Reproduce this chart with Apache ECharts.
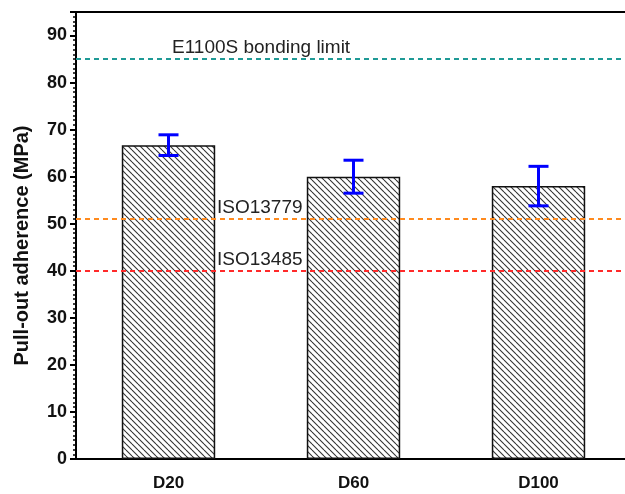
<!DOCTYPE html>
<html>
<head>
<meta charset="utf-8">
<script src="https://cdn.jsdelivr.net/npm/echarts@6/dist/echarts.min.js"></script>
<style>
html,body{margin:0;padding:0;background:#fff;overflow:hidden;width:625px;height:494px;}
#chart{width:700px;height:494px;}
</style>
</head>
<body>
<div id="chart"></div>
<script>
// ---- data ----
const categories = ['D20', 'D60', 'D100'];
const meanValues = [66.7, 60.0, 58.0];
const errorValues = [2.2, 3.5, 4.2];
const limitNames = ['E1100S bonding limit', 'ISO13779', 'ISO13485'];
const limitValues = [85, 51, 40];
const yTicks = [0, 10, 20, 30, 40, 50, 60, 70, 80, 90];

// ---- styles ----
const limitColors = ['#1f9a96', '#ff8a1e', '#ff2a2a'];
const limitLabelPad = [94, 139, 139];
const FONT = '"Liberation Sans", Arial, Helvetica, sans-serif';

function hatchPattern() {
  const s = 6;
  const c = document.createElement('canvas');
  c.width = s; c.height = s;
  const g = c.getContext('2d');
  g.fillStyle = '#ffffff';
  g.fillRect(0, 0, s, s);
  g.strokeStyle = '#333333';
  g.lineWidth = 1.1;
  [-s, 0, s].forEach(k => {
    g.beginPath();
    g.moveTo(0, k);
    g.lineTo(s, s + k);
    g.stroke();
  });
  return c;
}

const chart = echarts.init(document.getElementById('chart'), null, {renderer: 'canvas'});

const errorData = categories.map((c, i) => [i, meanValues[i] - errorValues[i], meanValues[i] + errorValues[i]]);

const markData = limitNames.map((n, i) => ({
  name: n,
  yAxis: limitValues[i],
  lineStyle: {color: limitColors[i], type: [5, 4], width: 2},
  label: {
    show: true,
    position: 'insideStartTop',
    formatter: n,
    color: '#222',
    fontSize: 19,
    fontFamily: FONT,
    padding: [0, 0, 0, limitLabelPad[i]],
    distance: 2
  }
}));

const option = {
  animation: false,
  backgroundColor: '#fff',
  grid: {
    left: 76, right: 69, top: 12, bottom: 35,
    outerBoundsMode: 'none',
    containLabel: false,
    show: false
  },
  xAxis: [
    {
      type: 'category',
      data: categories,
      axisLine: {lineStyle: {color: '#000', width: 2}},
      axisTick: {alignWithLabel: true, length: 5, lineStyle: {color: '#000', width: 2}},
      axisLabel: {color: '#111', fontSize: 17, fontWeight: 'bold', fontFamily: FONT, margin: 16},
      splitLine: {show: false}
    },
    {
      type: 'category',
      position: 'top',
      data: categories,
      axisLine: {show: true, lineStyle: {color: '#000', width: 2}},
      axisTick: {show: false},
      axisLabel: {show: false},
      splitLine: {show: false}
    }
  ],
  yAxis: {
    type: 'value',
    min: 0, max: 95, interval: 10,
    name: 'Pull-out adherence (MPa)',
    nameLocation: 'middle',
    nameGap: 44,
    nameTextStyle: {color: '#111', fontSize: 20, fontWeight: 'bold', fontFamily: FONT, padding: [0, 20, 0, 0]},
    axisLine: {show: true, lineStyle: {color: '#000', width: 2}},
    axisTick: {show: true, length: 6, lineStyle: {color: '#000', width: 2}},
    minorTick: {show: true, splitNumber: 10, length: 3, lineStyle: {color: '#000', width: 1.5}},
    axisLabel: {
      color: '#111', fontSize: 18, fontWeight: 'bold', fontFamily: FONT, margin: 9,
      showMaxLabel: false,
      formatter: v => (yTicks.indexOf(v) >= 0 ? String(v) : '')
    },
    splitLine: {show: false}
  },
  series: [
    {
      type: 'line',
      data: [],
      z: 1,
      silent: true,
      markLine: {
        silent: true,
        symbol: 'none',
        animation: false,
        data: markData
      }
    },
    {
      type: 'bar',
      z: 2,
      data: meanValues,
      barWidth: '50.5%',
      itemStyle: {
        color: {image: hatchPattern(), repeat: 'repeat'},
        borderColor: '#111',
        borderWidth: 1.5
      }
    },
    {
      type: 'custom',
      z: 3,
      data: errorData,
      renderItem: function (params, api) {
        const x = api.value(0);
        const lo = api.coord([x, api.value(1)]);
        const hi = api.coord([x, api.value(2)]);
        const hw = 10;
        const style = {stroke: '#0000ff', lineWidth: 3, fill: null};
        return {
          type: 'group',
          children: [
            {type: 'line', shape: {x1: lo[0], y1: lo[1], x2: hi[0], y2: hi[1]}, style: style},
            {type: 'line', shape: {x1: lo[0] - hw, y1: lo[1], x2: lo[0] + hw, y2: lo[1]}, style: style},
            {type: 'line', shape: {x1: hi[0] - hw, y1: hi[1], x2: hi[0] + hw, y2: hi[1]}, style: style}
          ]
        };
      }
    }
  ]
};

chart.setOption(option);
</script>
</body>
</html>
